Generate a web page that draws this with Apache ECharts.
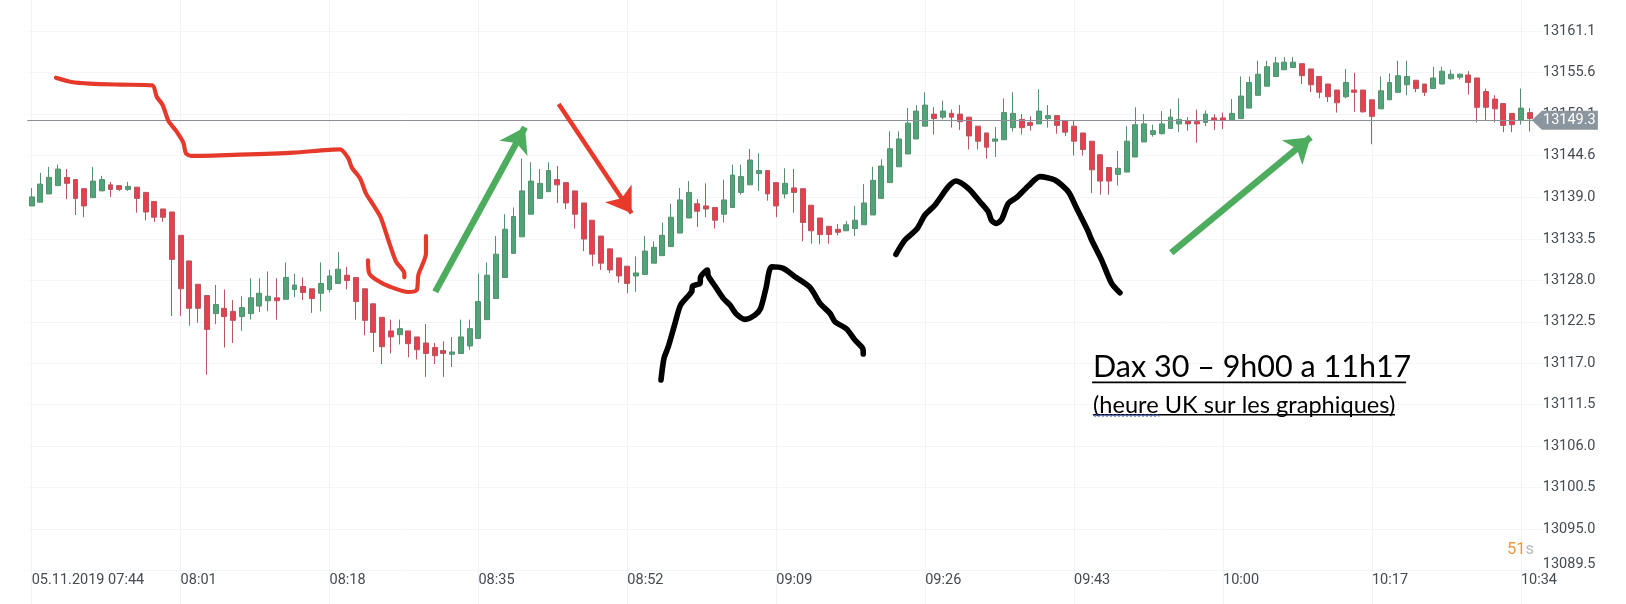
<!DOCTYPE html>
<html>
<head>
<meta charset="utf-8">
<title>Dax 30</title>
<style>html,body{margin:0;padding:0;background:#fff}#c{width:1626px;height:604px}</style>
<script src="https://cdn.jsdelivr.net/npm/echarts@6/dist/echarts.min.js"></script>
</head>
<body>
<div id="c"></div>
<script>
const opens = [13137.9,13138.4,13139.5,13140.6,13141.7,13141.4,13140.2,13139.0,13139.9,13140.7,13140.6,13140.1,13140.4,13139.7,13138.5,13137.5,13137.1,13134.0,13130.6,13127.5,13126.0,13123.6,13124.3,13123.9,13123.2,13123.6,13124.6,13125.3,13125.7,13125.5,13126.8,13127.2,13126.9,13126.3,13126.8,13127.6,13128.7,13128.4,13126.9,13124.9,13123.1,13121.3,13120.8,13121.3,13120.5,13119.7,13119.1,13118.7,13118.2,13118.3,13119.3,13120.3,13122.8,13125.6,13128.4,13131.6,13133.8,13136.8,13138.9,13139.8,13141.4,13141.0,13139.9,13138.3,13136.0,13133.9,13132.2,13131.0,13129.9,13128.6,13128.8,13130.3,13131.3,13132.5,13134.3,13136.3,13138.2,13137.9,13137.7,13136.8,13137.7,13139.7,13140.7,13142.2,13142.6,13141.0,13139.5,13140.3,13140.2,13138.0,13136.3,13135.2,13134.8,13134.6,13134.9,13135.4,13136.7,13138.9,13141.0,13143.1,13144.8,13146.8,13148.5,13150.1,13149.7,13150.2,13150.1,13149.7,13148.5,13147.6,13146.5,13146.7,13148.3,13149.4,13149.0,13148.8,13149.5,13149.9,13149.2,13148.5,13147.6,13146.5,13144.7,13143.0,13142.1,13142.4,13144.4,13146.4,13147.4,13147.5,13148.2,13148.8,13149.2,13149.1,13149.0,13149.6,13149.6,13149.3,13149.5,13150.9,13152.6,13153.8,13155.1,13156.0,13156.3,13156.8,13156.1,13155.1,13154.1,13153.3,13152.4,13153.3,13153.3,13152.0,13150.8,13152.0,13153.0,13154.0,13154.6,13154.1,13153.5,13154.1,13154.8,13155.0,13155.3,13154.9,13153.1,13152.1,13151.5,13150.2,13149.3,13150.3];
const closes = [13139.1,13140.8,13141.7,13142.8,13140.9,13138.9,13137.9,13141.2,13141.4,13140.1,13140.1,13140.5,13138.9,13137.1,13136.4,13136.4,13130.8,13126.9,13124.3,13124.3,13121.5,13124.8,13123.2,13122.7,13124.4,13125.7,13126.3,13125.9,13125.3,13128.4,13127.4,13126.4,13125.6,13127.6,13128.6,13129.5,13128.0,13125.2,13122.7,13121.1,13119.2,13120.5,13121.6,13119.6,13118.8,13118.3,13118.0,13118.3,13118.5,13120.5,13121.6,13125.2,13128.7,13131.5,13134.8,13136.5,13139.9,13141.2,13140.9,13142.6,13140.7,13138.3,13136.8,13133.5,13131.5,13130.3,13129.4,13128.6,13127.6,13129.0,13131.9,13132.4,13134.0,13136.4,13138.7,13139.7,13137.2,13137.5,13136.0,13138.7,13142.0,13141.8,13144.0,13142.6,13139.5,13137.9,13140.9,13139.7,13135.7,13134.6,13134.1,13134.1,13134.4,13135.4,13136.0,13138.3,13141.3,13143.2,13145.5,13146.8,13148.9,13150.5,13151.3,13149.5,13150.5,13149.7,13149.1,13147.2,13146.5,13145.7,13146.8,13150.3,13150.2,13148.3,13148.6,13150.5,13149.9,13148.6,13147.7,13146.5,13145.4,13142.7,13141.2,13141.2,13142.9,13146.5,13148.7,13148.8,13147.9,13148.8,13149.7,13149.4,13148.8,13148.8,13150.1,13149.3,13149.3,13150.2,13152.5,13154.3,13155.4,13156.4,13156.9,13157.0,13157.0,13155.2,13154.0,13153.0,13152.4,13151.6,13154.3,13153.0,13150.4,13149.8,13153.2,13154.3,13155.2,13155.1,13153.5,13153.0,13154.9,13155.8,13155.4,13155.4,13154.3,13151.0,13151.0,13150.8,13148.6,13148.7,13150.9,13149.5];
const lows = [13137.9,13138.4,13139.5,13140.6,13138.8,13136.7,13136.4,13139.0,13139.9,13139.1,13139.9,13139.9,13137.0,13136.0,13135.8,13135.8,13123.3,13123.3,13122.0,13122.4,13115.5,13122.2,13119.1,13119.7,13121.3,13122.8,13123.8,13123.9,13122.8,13125.5,13125.8,13125.4,13123.7,13123.9,13126.4,13127.6,13126.8,13122.8,13120.7,13118.5,13116.9,13118.3,13119.5,13117.8,13117.5,13115.2,13116.9,13115.2,13116.5,13118.3,13118.8,13120.3,13122.8,13125.6,13128.4,13131.6,13133.8,13136.8,13138.9,13139.8,13138.3,13137.5,13134.9,13131.9,13129.9,13129.4,13129.0,13127.7,13126.3,13126.5,13128.8,13130.3,13131.3,13132.5,13134.3,13136.3,13135.1,13136.4,13134.9,13135.7,13137.7,13139.4,13140.7,13139.9,13138.6,13136.4,13138.9,13137.0,13133.2,13132.9,13132.8,13132.9,13134.0,13134.6,13133.9,13135.4,13136.7,13138.9,13141.0,13143.1,13144.8,13146.8,13148.5,13147.4,13149.4,13148.3,13148.0,13145.4,13145.4,13144.2,13144.4,13146.7,13147.8,13147.4,13147.9,13148.8,13148.3,13147.5,13147.2,13144.6,13144.6,13139.6,13139.4,13139.4,13140.6,13142.4,13144.4,13146.4,13147.1,13147.4,13148.2,13147.7,13147.9,13146.3,13148.5,13148.0,13148.1,13149.3,13149.5,13150.9,13152.6,13153.8,13155.1,13156.0,13156.3,13154.1,13153.0,13152.2,13151.7,13150.3,13152.2,13150.4,13150.3,13146.1,13150.8,13152.0,13153.0,13152.6,13153.0,13152.5,13153.5,13154.1,13154.7,13154.7,13152.7,13149.0,13149.3,13149.0,13147.7,13147.7,13148.7,13147.8];
const highs = [13140.3,13142.3,13143.1,13143.4,13142.8,13141.4,13140.2,13143.1,13141.9,13141.1,13140.6,13141.1,13140.4,13139.7,13138.5,13137.5,13137.1,13134.0,13130.6,13127.5,13126.0,13127.4,13126.8,13125.4,13125.9,13128.3,13128.3,13129.2,13128.3,13130.4,13128.9,13128.4,13126.9,13130.4,13129.4,13131.8,13129.8,13128.4,13126.9,13124.9,13123.1,13122.8,13122.8,13121.3,13120.5,13122.2,13119.7,13119.9,13120.5,13122.8,13122.8,13128.9,13130.4,13133.9,13136.8,13137.7,13144.2,13143.7,13142.8,13143.7,13143.2,13141.0,13139.9,13138.3,13136.0,13133.9,13132.2,13131.0,13129.9,13131.2,13133.9,13133.2,13135.7,13138.2,13140.3,13141.2,13138.8,13140.9,13137.7,13141.4,13143.4,13143.4,13145.5,13144.9,13142.6,13141.0,13142.9,13142.8,13140.2,13138.0,13136.3,13135.2,13135.5,13135.9,13137.9,13140.8,13143.1,13144.1,13147.8,13147.8,13150.9,13151.3,13153.0,13151.0,13151.9,13150.7,13151.3,13149.7,13148.5,13147.6,13148.4,13152.2,13153.0,13150.1,13149.8,13153.4,13151.3,13149.9,13149.2,13149.2,13147.6,13146.5,13144.7,13143.0,13145.2,13148.5,13151.0,13150.1,13148.7,13150.5,13150.8,13152.2,13149.7,13150.7,13150.6,13150.1,13150.3,13152.1,13155.1,13155.1,13157.2,13157.2,13157.7,13157.7,13157.7,13156.8,13156.1,13155.1,13154.1,13153.3,13156.1,13155.6,13153.3,13152.0,13155.1,13155.5,13157.2,13157.2,13154.6,13154.1,13156.4,13156.4,13156.0,13155.5,13155.8,13154.9,13153.5,13152.6,13151.5,13150.2,13153.5,13150.9];
const lastPrice = [13149.3];
const priceTicks = [13089.5,13095.0,13100.5,13106.0,13111.5,13117.0,13122.5,13128.0,13133.5,13139.0,13144.6,13150.1,13155.6,13161.1];
// hand-drawn strokes, as [candle index, price]
const redStrokeA = [[2.77,13154.94],[4.56,13154.37],[6.66,13154.15],[10.08,13154.02],[13.77,13153.92],[14.27,13152.42],[14.95,13151.31],[15.6,13149.23],[16.47,13147.9],[17.31,13146.31],[17.61,13144.89],[18.26,13144.54],[23.78,13144.71],[29.87,13144.98],[35.19,13145.42],[36.15,13144.23],[36.53,13143.03],[37.48,13141.57],[38.16,13139.57],[38.88,13138.25],[39.84,13136.39],[40.71,13133.38],[41.59,13130.5],[42.54,13128.95],[42.54,13128.42]];
const redStrokeB = [[38.39,13130.67],[38.54,13128.95],[39.38,13128.06],[40.9,13127.17],[43.0,13126.47],[43.95,13126.73],[44.14,13128.73],[45.01,13131.6],[45.01,13133.91]];
const blackStrokeA = [[71.84,13114.77],[72.18,13117.65],[72.67,13119.2],[73.44,13122.3],[74.08,13124.74],[75.34,13126.51],[75.45,13127.26],[76.29,13127.61],[76.37,13128.5],[77.13,13129.39],[77.24,13128.59],[78.0,13127.26],[78.95,13125.62],[79.71,13124.74],[80.47,13123.5],[81.43,13122.83],[82.57,13123.41],[83.21,13124.29],[83.82,13126.95],[84.47,13129.83],[85.8,13129.61],[87.13,13128.5],[88.85,13127.08],[89.99,13124.96],[91.13,13123.63],[91.7,13122.52],[93.03,13121.55],[93.98,13120.09],[94.86,13118.98],[94.93,13118.23]];
const blackStrokeB = [[98.66,13131.47],[99.69,13133.37],[101.02,13134.79],[101.97,13136.69],[103.12,13138.02],[104.64,13140.46],[105.51,13141.21],[106.92,13140.24],[108.25,13138.46],[109.2,13137.14],[109.58,13135.94],[110.16,13135.59],[110.73,13136.12],[111.49,13138.24],[112.44,13139.04],[113.77,13140.55],[115.1,13141.79],[116.81,13141.34],[118.34,13139.79],[119.29,13137.58],[120.62,13134.48],[121.0,13133.37],[122.14,13130.71],[123.28,13127.61],[124.23,13126.37]];
const greenArrows = [[[46.07,13126.5],[56.31,13148.35]],[[130.09,13131.69],[146.0,13147.02]]];
const redArrows = [[[60.16,13151.44],[68.49,13136.92]]];
const noteTitle = 'Dax 30 – 9h00 a 11h17';
const noteSub = '(heure UK sur les graphiques)';

const categories = [];
for (let i = 0; i < 173; i++) {
  const m = 7 * 60 + 44 + i;
  const t = String(Math.floor(m / 60)).padStart(2, '0') + ':' + String(m % 60).padStart(2, '0');
  categories.push(i === 0 ? '05.11.2019 ' + t : t);
}
const candles = opens.map((o, i) => [o, closes[i], lows[i], highs[i]]);

const strokeSeries = (data, color, width) => ({
  type: 'line', xAxisIndex: 1, yAxisIndex: 0, data, showSymbol: false, smooth: 0.25,
  silent: true, animation: false, z: 5, lineStyle: { color, width, cap: 'round', join: 'round' }
});
const arrowSeries = (arrows, color, width, size) => ({
  type: 'lines', coordinateSystem: 'cartesian2d', xAxisIndex: 1, yAxisIndex: 0, polyline: false,
  silent: true, animation: false, z: 6, symbol: ['none', 'arrow'], symbolSize: size,
  lineStyle: { color, width, opacity: 1, curveness: 0 },
  data: arrows.map(a => ({ coords: a }))
});

const wave = [];
for (let x = 1093, k = 0; x <= 1160; x += 2, k++) wave.push([x, 415.5 + (k % 2 ? 1.2 : -1.2)]);

const chart = echarts.init(document.getElementById('c'), null, { renderer: 'canvas', width: 1626, height: 604 });
chart.setOption({
  animation: false,
  backgroundColor: '#ffffff',
  grid: { left: 27.3, top: 0, width: 1515.48, height: 604, containLabel: false },
  xAxis: [
    {
      type: 'category', data: categories, boundaryGap: true, offset: -31,
      axisLine: { show: false }, axisTick: { show: false, alignWithLabel: true },
      axisLabel: { interval: 16, align: 'left', margin: 0, color: '#444b52', fontFamily: 'Roboto', fontSize: 14.5, hideOverlap: false },
      splitLine: { show: true, interval: 16, alignWithLabel: true, lineStyle: { color: '#f1f3f8', width: 1 } }
    },
    { type: 'value', min: -0.5, max: 172.5, show: false, splitLine: { show: false } }
  ],
  yAxis: [{
    type: 'value', position: 'right', min: 13085.02, max: 13165.26, scale: true,
    axisLine: { show: false },
    axisTick: { show: false, customValues: priceTicks },
    axisLabel: {
      customValues: priceTicks, margin: 0, color: '#444b52', fontFamily: 'Roboto', fontSize: 14.5, align: 'left',
      formatter: v => v === priceTicks[0] ? '{low|' + v.toFixed(1) + '}' : v.toFixed(1),
      rich: { low: { color: '#444b52', fontFamily: 'Roboto', fontSize: 14.5, padding: [0, 0, 12, 0] } }
    },
    splitLine: { show: true, lineStyle: { color: '#f3f5f9', width: 1 } }
  }],
  series: [
    {
      type: 'candlestick', xAxisIndex: 0, yAxisIndex: 0, data: candles, barWidth: 5.4, z: 3, silent: true,
      itemStyle: { color: '#50a578', color0: '#e63f4e', borderColor: '#54906f', borderColor0: '#b8555f', borderWidth: 1 },
      markLine: {
        silent: true, symbol: 'none', animation: false, z: 4, label: { show: false },
        lineStyle: { color: '#8b9096', width: 1, type: 'solid' },
        data: [{ yAxis: lastPrice[0] }]
      }
    },
    strokeSeries(redStrokeA, '#e5392b', 4.2),
    strokeSeries(redStrokeB, '#e5392b', 4.2),
    strokeSeries(blackStrokeA, '#000000', 5.6),
    strokeSeries(blackStrokeB, '#000000', 5.6),
    arrowSeries(greenArrows, '#4dac5e', 6.5, 24),
    arrowSeries(redArrows, '#e9392a', 4.5, 24),
    {
      type: 'scatter', xAxisIndex: 1, yAxisIndex: 0, clip: false, silent: true, z: 8,
      data: [[175.02, lastPrice[0]]],
      symbol: 'path://M0 9.5 L10 0 L66 0 L66 19 L10 19 Z', symbolSize: [66, 19], symbolKeepAspect: false,
      itemStyle: { color: '#8a959e', opacity: 1 },
      label: { show: true, position: 'inside', offset: [4.5, 0], color: '#ffffff', fontFamily: 'Roboto', fontSize: 14.5, formatter: p => p.value[1].toFixed(1) }
    }
  ],
  graphic: [
    { type: 'text', left: 1093, top: 352, z: 20, style: { text: noteTitle, font: '30.5px Lato', fill: '#000' } },
    { type: 'rect', shape: { x: 1092, y: 381.5, width: 314, height: 1.8 }, z: 20, style: { fill: '#000' } },
    { type: 'text', left: 1093, top: 393, z: 20, style: { text: noteSub, font: '23.6px Lato', fill: '#000' } },
    { type: 'rect', shape: { x: 1093, y: 414, width: 302, height: 1.5 }, z: 20, style: { fill: '#000' } },
    { type: 'polyline', shape: { points: wave }, z: 21, style: { stroke: '#3a5fc8', lineWidth: 1, fill: null } },
    { type: 'text', left: 1507, top: 541, z: 20, style: { rich: { a: { fill: '#ef9a3a', font: '16.5px Roboto' }, b: { fill: '#b5b9bd', font: '16.5px Roboto' } }, text: '{a|51}{b|s}' } }
  ]
});
</script>
</body>
</html>
